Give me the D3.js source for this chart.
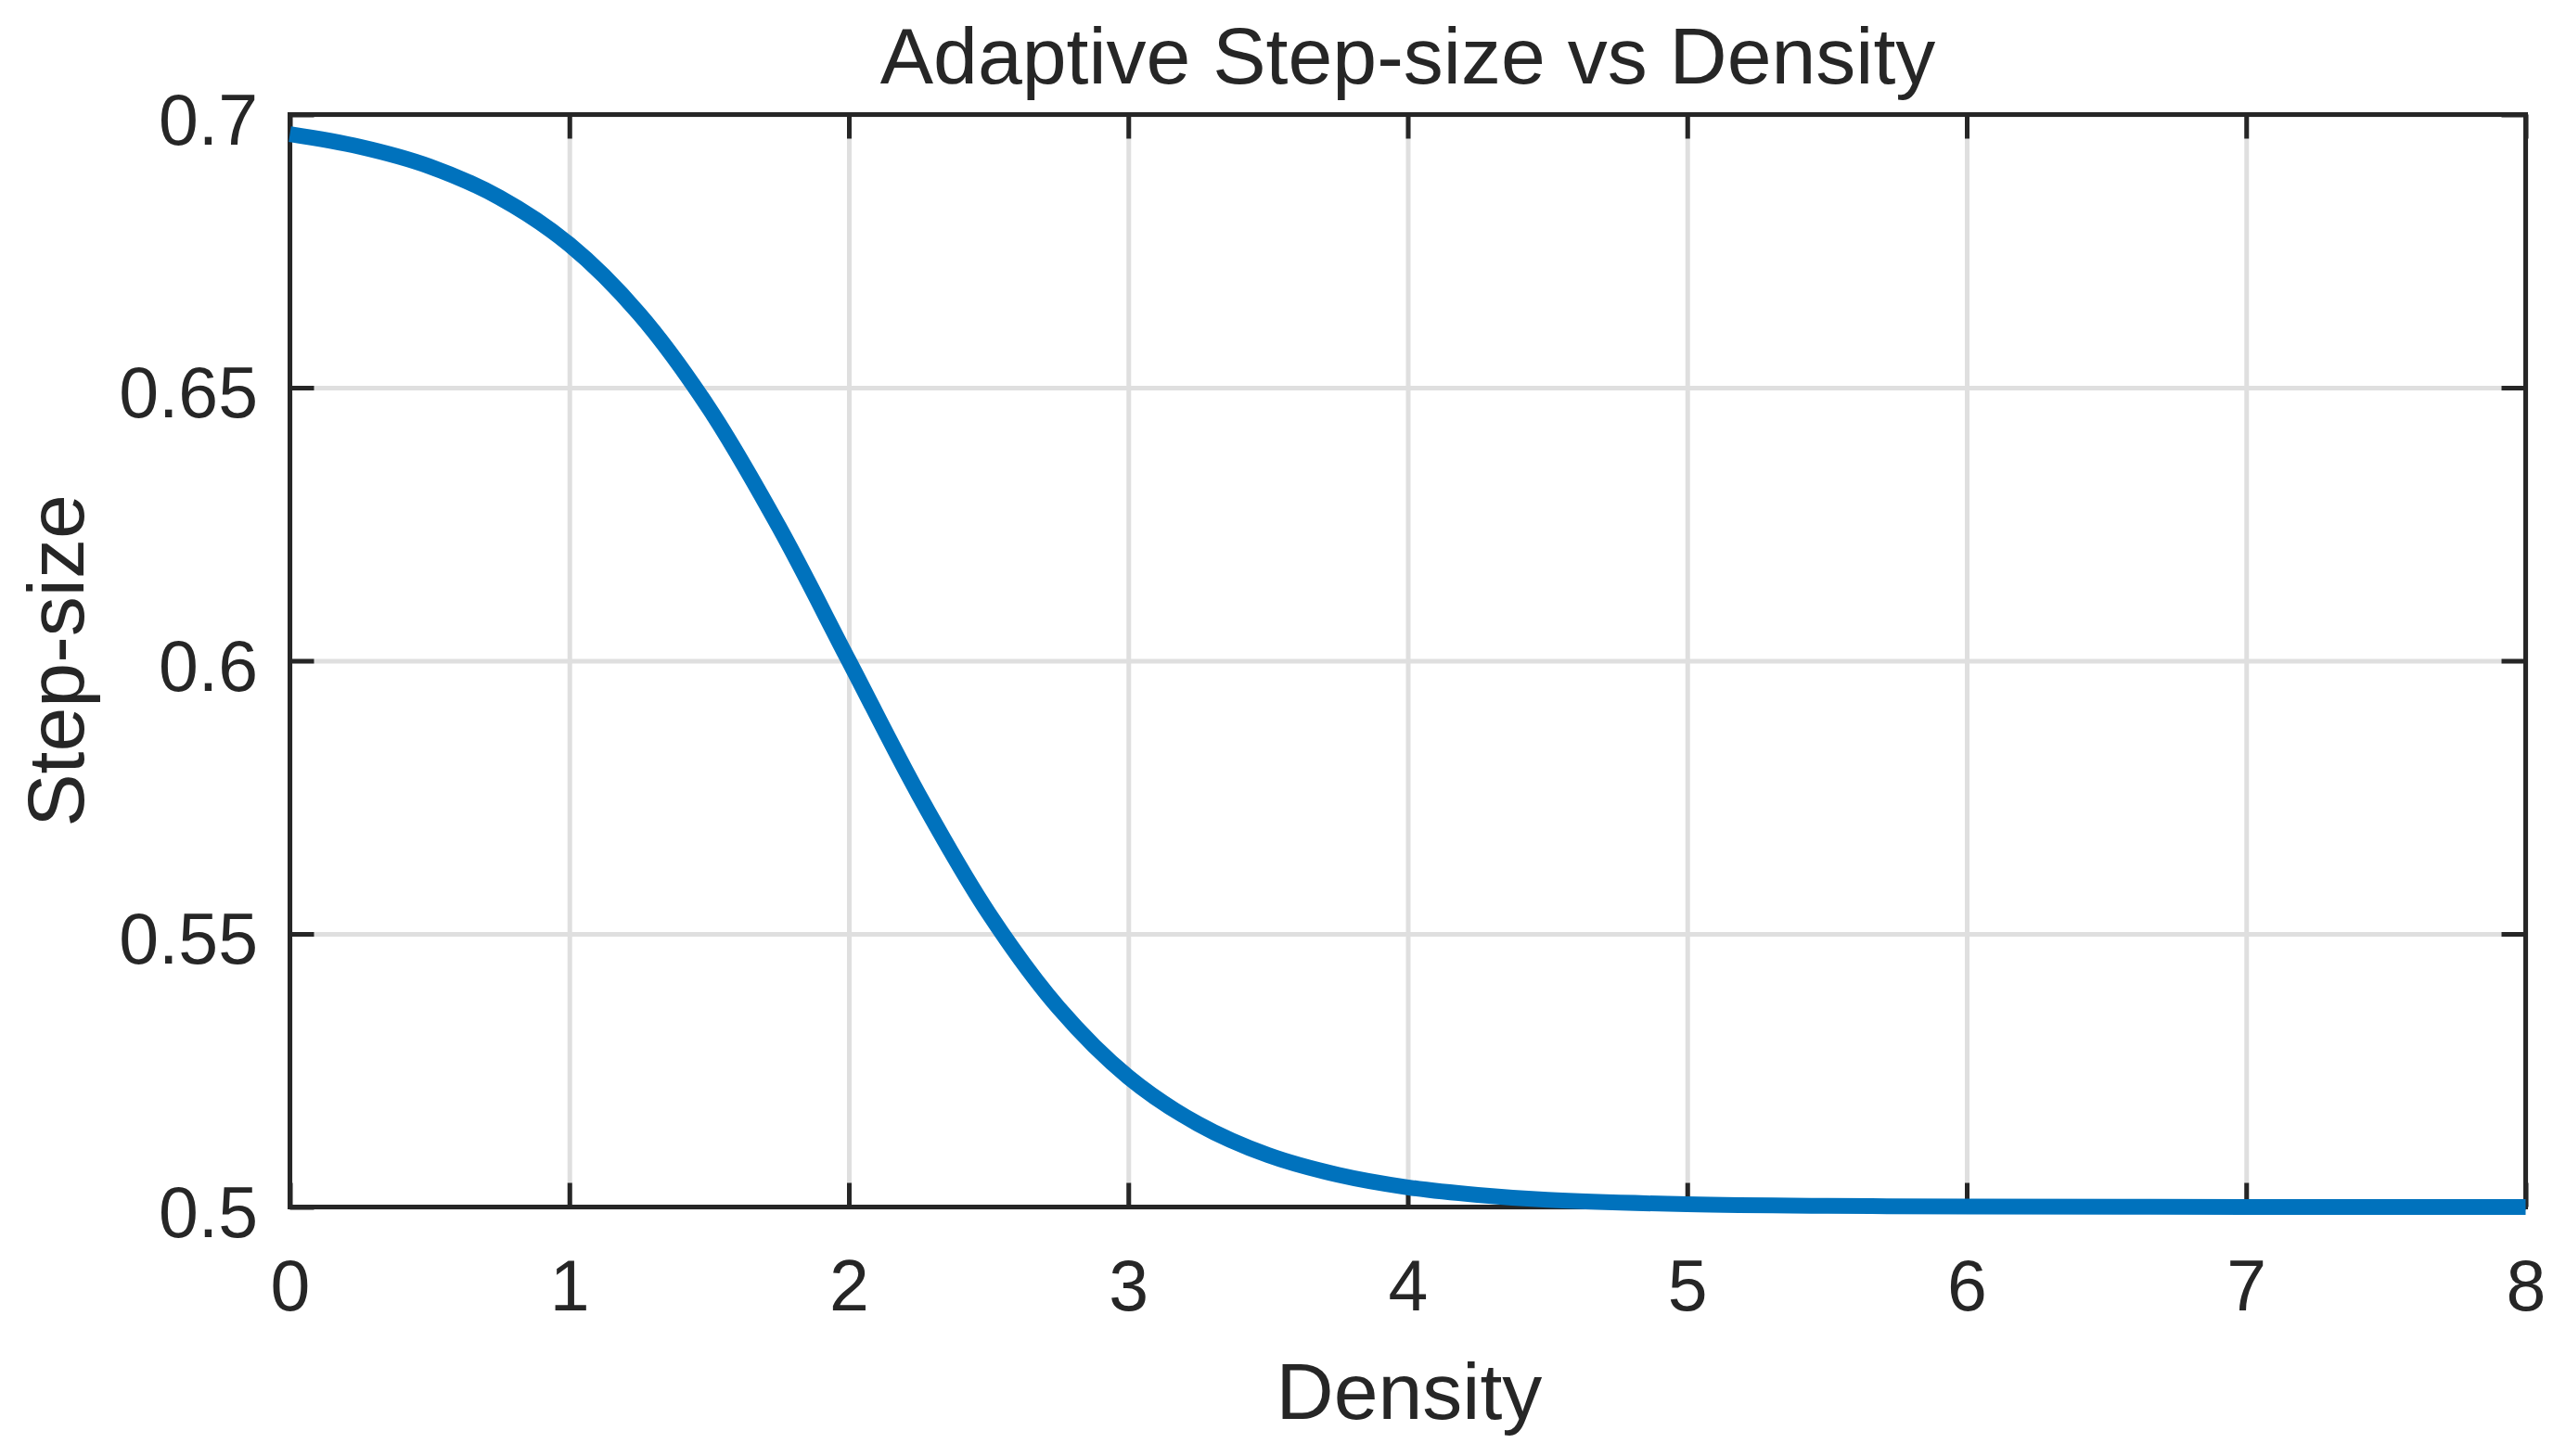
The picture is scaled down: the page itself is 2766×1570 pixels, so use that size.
<!DOCTYPE html>
<html>
<head>
<meta charset="utf-8">
<script src="https://cdn.jsdelivr.net/npm/d3@7"></script>
<style>
  html, body { margin: 0; padding: 0; background: #ffffff; }
  svg { display: block; }
  text { font-family: "Liberation Sans", Arial, Helvetica, sans-serif; fill: #262626; }
</style>
</head>
<body>
<svg id="chart" width="2766" height="1570"></svg>
<script>
// ---- data ----
const density = [0, 0.25, 0.5, 0.75, 1, 1.25, 1.5, 1.75, 2, 2.25, 2.5, 2.75, 3, 3.25, 3.5, 3.75, 4, 4.25, 4.5, 5, 5.5, 6, 7, 8];
const stepSize = [0.6964, 0.6941, 0.6905, 0.6848, 0.6762, 0.6635, 0.6462, 0.6245, 0.6000, 0.5755, 0.5538, 0.5365, 0.5238, 0.5152, 0.5095, 0.5059, 0.5036, 0.5022, 0.5013, 0.5005, 0.5002, 0.5001, 0.5000, 0.5000];
const xTicks = [0, 1, 2, 3, 4, 5, 6, 7, 8];
const yTicks = [0.5, 0.55, 0.6, 0.65, 0.7];
const yTickLabels = ["0.5", "0.55", "0.6", "0.65", "0.7"];
const titleText = "Adaptive Step-size vs Density";
const xLabelText = "Density";
const yLabelText = "Step-size";

// ---- layout ----
const L = 312.5, R = 2722.5, T = 123.5, B = 1301.5;
const axisColor = "#262626";
const gridColor = "#dfdfdf";
const lineColor = "#0072BD";
const tickFont = 77, labelFont = 86;

const svg = d3.select("#chart");
const x = d3.scaleLinear().domain([0, 8]).range([L, R]);
const y = d3.scaleLinear().domain([0.5, 0.7]).range([B, T]);

// grid
const gx = svg.append("g").attr("transform", `translate(0,${B})`)
  .call(d3.axisBottom(x).tickValues(xTicks).tickSize(-(B - T)).tickFormat(""));
const gy = svg.append("g").attr("transform", `translate(${L},0)`)
  .call(d3.axisLeft(y).tickValues(yTicks).tickSize(-(R - L)).tickFormat(""));
[gx, gy].forEach(g => {
  g.select(".domain").remove();
  g.selectAll("line").attr("stroke", gridColor).attr("stroke-width", 5);
});

// axes with inward ticks
const tk = 26;
const axB = svg.append("g").attr("transform", `translate(0,${B})`)
  .call(d3.axisBottom(x).tickValues(xTicks).tickSizeInner(-tk).tickSizeOuter(0).tickFormat(d3.format("d")));
const axT = svg.append("g").attr("transform", `translate(0,${T})`)
  .call(d3.axisTop(x).tickValues(xTicks).tickSizeInner(-tk).tickSizeOuter(0).tickFormat(""));
const axL = svg.append("g").attr("transform", `translate(${L},0)`)
  .call(d3.axisLeft(y).tickValues(yTicks).tickSizeInner(-tk).tickSizeOuter(0).tickFormat((d, i) => yTickLabels[i]));
const axR = svg.append("g").attr("transform", `translate(${R},0)`)
  .call(d3.axisRight(y).tickValues(yTicks).tickSizeInner(-tk).tickSizeOuter(0).tickFormat(""));

[axB, axT, axL, axR].forEach(g => {
  g.select(".domain").remove();
  g.selectAll("line").attr("stroke", axisColor).attr("stroke-width", 5);
  g.selectAll("text").attr("font-size", tickFont).attr("fill", axisColor)
    .attr("font-family", "'Liberation Sans', Arial, sans-serif");
});
axB.selectAll("text").attr("y", 111.5).attr("dy", null).attr("text-anchor", "middle");
axL.selectAll("text").attr("x", -34.5).attr("dy", null).attr("y", 31.5).attr("text-anchor", "end");

// box
svg.append("rect").attr("x", L).attr("y", T).attr("width", R - L).attr("height", B - T)
  .attr("fill", "none").attr("stroke", axisColor).attr("stroke-width", 5);

// data line (on top of the box)
const line = d3.line().x((d, i) => x(density[i])).y(d => y(d)).curve(d3.curveCatmullRom.alpha(0.5));
svg.append("path").datum(stepSize)
  .attr("d", line)
  .attr("fill", "none")
  .attr("stroke", lineColor)
  .attr("stroke-width", 17)
  .attr("stroke-linejoin", "round")
  .attr("stroke-linecap", "butt");

// title and labels
svg.append("text").attr("x", (L + R) / 2).attr("y", 90).attr("text-anchor", "middle")
  .attr("font-size", labelFont).text(titleText);
svg.append("text").attr("x", 1519).attr("y", 1530).attr("text-anchor", "middle")
  .attr("font-size", labelFont).text(xLabelText);
svg.append("text").attr("transform", `translate(90,${(T + B) / 2}) rotate(-90)`)
  .attr("text-anchor", "middle").attr("font-size", labelFont).text(yLabelText);
</script>
</body>
</html>
